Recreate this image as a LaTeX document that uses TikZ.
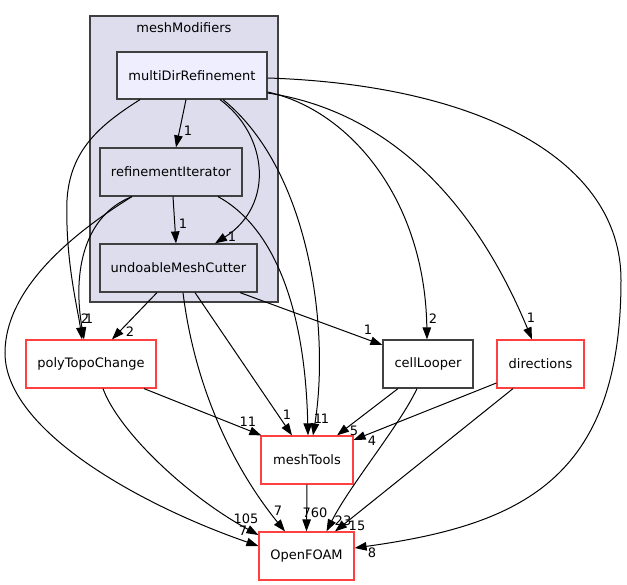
\documentclass[tikz,border=0pt]{standalone}
\usepackage{fontspec}
\setmainfont{DejaVu Sans}
\usetikzlibrary{arrows.meta}
\definecolor{clfill}{HTML}{DDDDEE}
\definecolor{curfill}{HTML}{EEEEFF}
\definecolor{bord}{HTML}{404040}
\definecolor{redb}{HTML}{FF4040}
\tikzset{
  box/.style={draw=bord, line width=1.2pt, minimum height=48pt, inner sep=0pt,
    font=\fontsize{13}{15}\selectfont},
  redbox/.style={box, draw=redb, fill=white},
  dep/.style={line width=1pt, -{Triangle[length=12pt,width=8.5pt]}},
  lbl/.style={font=\fontsize{13}{15}\selectfont, inner sep=0pt},
}
\begin{document}
\begin{tikzpicture}[x=1pt,y=-1pt]
\useasboundingbox (0,0) rectangle (627,585);
% cluster
\node[draw=bord, fill=clfill, line width=1.2pt, minimum width=188pt, minimum height=286pt, inner sep=0pt] (cluster) at (184,159) {};
\node[lbl] (clab) at (184,27.5) {meshModifiers};
% nodes
\node[box, fill=curfill, minimum width=150pt, minimum height=47pt] (mdr) at (192,75.5) {multiDirRefinement};
\node[box, fill=clfill, minimum width=142pt] (ri) at (171,172) {refinementIterator};
\node[box, fill=clfill, minimum width=157pt] (umc) at (178.5,268) {undoableMeshCutter};
\node[redbox, minimum width=130pt] (ptc) at (91,364) {polyTopoChange};
\node[box, fill=white, minimum width=90pt] (cl) at (428,364) {cellLooper};
\node[redbox, minimum width=87pt] (dir) at (540.5,364) {directions};
\node[redbox, minimum width=92pt] (mt) at (307,460) {meshTools};
\node[redbox, minimum width=95pt] (of) at (306.5,556) {OpenFOAM};
% edges
\draw[dep] ([xshift=-6pt]mdr.south) -- ([xshift=5pt]ri.north);
\draw[dep] ([xshift=2pt]ri.south) -- ([xshift=-2.5pt]umc.north);
\draw[dep] ([xshift=28pt]mdr.south) .. controls (268,135) and (275,205) .. ([xshift=36.5pt]umc.north);
\draw[dep] ([xshift=-52pt]mdr.south) .. controls (100,125) and (70,150) .. (67,200) .. controls (65,260) and (78,310) .. ([xshift=-9pt]ptc.north);
\draw[dep] ([xshift=-39pt]ri.south) .. controls (85,215) and (72,270) .. ([xshift=-7pt]ptc.north);
\draw[dep] ([xshift=-21.5pt]umc.south) -- ([xshift=21pt]ptc.north);
\draw[dep] ([xshift=-39pt]ri.south) .. controls (70,235) and (5,290) .. (5,353) .. controls (5,430) and (140,505) .. ([yshift=10pt]of.west);
\draw[dep] ([xshift=12pt]ptc.south) .. controls (118,430) and (185,495) .. ([yshift=21pt]of.west);
\draw[dep] ([xshift=4.5pt]umc.south) .. controls (195,390) and (235,470) .. ([xshift=-21.5pt]of.north);
\draw[dep] ([xshift=31pt]mdr.south) .. controls (310,170) and (330,330) .. ([xshift=6pt]mt.north);
\draw[dep] ([xshift=47pt]ri.south) .. controls (270,225) and (305,300) .. ([xshift=1pt]mt.north);
\draw[dep] ([yshift=-16.5pt]mdr.east) .. controls (350,110) and (425,200) .. ([xshift=-1pt]cl.north);
\draw[dep] ([yshift=-17.5pt]mdr.east) .. controls (380,110) and (470,190) .. ([xshift=-8.5pt]dir.north);
\draw[dep] ([yshift=-2.5pt]mdr.east) .. controls (480,85) and (621,160) .. (621,280) .. controls (621,480) and (520,525) .. ([yshift=8pt]of.east);
\draw[dep] ([xshift=61.5pt]umc.south) -- ([yshift=19pt]cl.west);
\draw[dep] ([xshift=-30pt]cl.south) -- ([xshift=30pt]mt.north);
\draw[dep] ([xshift=-11pt]cl.south) .. controls (400,425) and (350,485) .. ([xshift=20pt]of.north);
\draw[dep] ([yshift=-19pt]dir.west) -- ([yshift=20pt]mt.east);
\draw[dep] ([xshift=-27.5pt]dir.south) -- ([xshift=28.5pt]of.north);
\draw[dep] ([xshift=53pt]ptc.south) -- ([xshift=1pt]mt.north west);
\draw[dep] ([xshift=16.5pt]umc.south) -- ([xshift=-15pt]mt.north);
\draw[dep] (mt.south) -- (of.north);
% labels
\node[lbl] (l1) at (188,131) {1};
\node[lbl] (l2) at (183,224) {1};
\node[lbl] (l3) at (232,237) {1};
\node[lbl] (l4) at (85,319) {2};
\node[lbl] (l5) at (89,319) {1};
\node[lbl] (l6) at (130,332) {2};
\node[lbl] (l7) at (368,330) {1};
\node[lbl] (l8) at (433,319) {2};
\node[lbl] (l9) at (531,318) {1};
\node[lbl] (l10) at (248,422) {11};
\node[lbl] (l11) at (287,415) {1};
\node[lbl] (l12) at (318,419) {1};
\node[lbl] (l13) at (325,419) {1};
\node[lbl] (l14) at (354,431) {5};
\node[lbl] (l15) at (372,441) {4};
\node[lbl] (l16) at (246,519) {105};
\node[lbl] (l17) at (243,531) {7};
\node[lbl] (l18) at (278,511) {7};
\node[lbl] (l19) at (315,513) {760};
\node[lbl] (l20) at (343,521) {23};
\node[lbl] (l21) at (357,526) {15};
\node[lbl] (l22) at (372,553) {8};
\end{tikzpicture}
\end{document}
